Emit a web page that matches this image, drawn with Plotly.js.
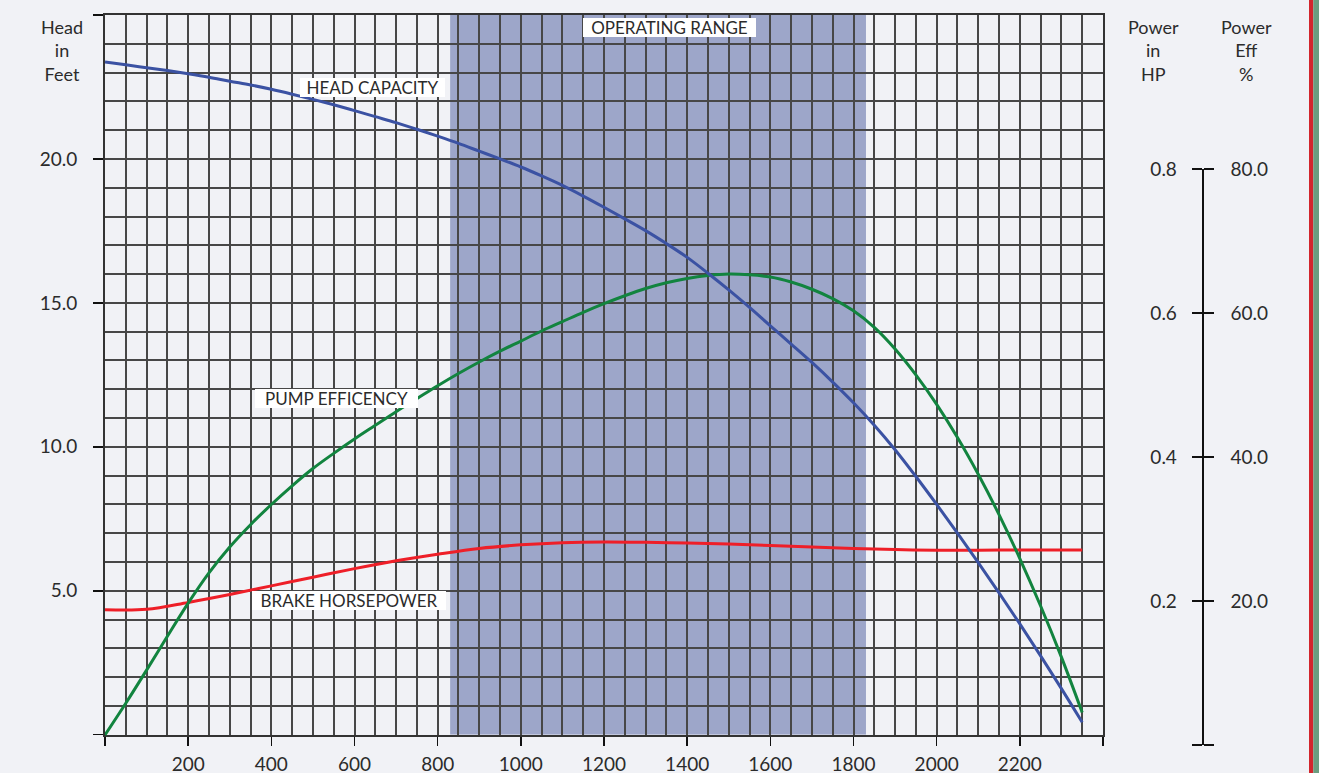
<!DOCTYPE html>
<html>
<head>
<meta charset="utf-8">
<script src="https://cdn.plot.ly/plotly-3.0.1.min.js"></script>
<style>
  html, body { margin: 0; padding: 0; background: #f1f2f6; }
  #chart { width: 1319px; height: 773px; }
</style>
</head>
<body>
<div id="chart"></div>
<script>
// ---------- data ----------
const headFlow = [0,50,100,150,200,250,300,350,400,450,500,550,600,650,700,750,800,850,900,950,1000,1050,1100,1150,1200,1250,1300,1350,1400,1450,1500,1550,1600,1650,1700,1750,1800,1850,1900,1950,2000,2050,2100,2150,2200,2250,2300,2350];
const headFeet = [23.37,23.27,23.17,23.07,22.96,22.84,22.70,22.57,22.42,22.25,22.07,21.88,21.68,21.47,21.26,21.03,20.79,20.54,20.27,20.00,19.72,19.41,19.08,18.71,18.32,17.92,17.51,17.06,16.58,16.03,15.45,14.84,14.20,13.57,12.93,12.25,11.53,10.75,9.90,8.97,8.00,7.00,5.98,4.93,3.85,2.74,1.60,0.43];

const effFlow = [0,50,100,150,200,250,300,350,400,450,500,550,600,650,700,750,800,850,900,950,1000,1050,1100,1150,1200,1250,1300,1350,1400,1450,1500,1550,1600,1650,1700,1750,1800,1850,1900,1950,2000,2050,2100,2150,2200,2250,2300,2350];
const effPct  = [1.4,5.8,10.4,15.1,19.7,23.9,27.5,30.6,33.4,36.0,38.4,40.5,42.5,44.4,46.3,48.1,49.9,51.6,53.2,54.7,56.1,57.5,58.8,60.1,61.3,62.4,63.4,64.2,64.8,65.2,65.4,65.3,65.0,64.3,63.3,62.0,60.3,58.0,55.0,51.4,47.3,42.7,37.6,32.0,25.9,19.3,12.2,4.5];

const hpFlow = [0,100,200,300,400,500,600,700,800,900,1000,1100,1200,1300,1400,1500,1600,1700,1800,1900,2000,2100,2200,2300,2350];
const hpVal  = [0.188,0.1885,0.198,0.209,0.221,0.233,0.245,0.256,0.265,0.273,0.278,0.281,0.282,0.2815,0.2805,0.279,0.277,0.275,0.273,0.2715,0.2705,0.2705,0.2708,0.2708,0.2708];

const operatingRange = [830, 1830];

const xTickVals   = [0,200,400,600,800,1000,1200,1400,1600,1800,2000,2200,2400];
const xTickLabels = ['','200','400','600','800','1000','1200','1400','1600','1800','2000','2200',''];
const yTickVals   = [0,5,10,15,20,25];
const yTickLabels = ['','5.0','10.0','15.0','20.0',''];
const hpTickVals   = [0,0.2,0.4,0.6,0.8];
const hpTickLabels = ['','0.2','0.4','0.6','0.8'];
const effTickVals   = [0,20,40,60,80];
const effTickLabels = ['','20.0','40.0','60.0','80.0'];

// ---------- layout geometry (pixels) ----------
const W = 1319, H = 773;
const mL = 105, mR = 19, mT = 15, mB = 28;
const plotW = W - mL - mR;
const plotH = H - mT - mB;
const plotBottom = H - mB;
const mainRight = 1103, mainBottom = 734.7;
const rightAxisX = 1202.7, rightAxisTop = 169;
const px2paperX = px => (px - mL) / plotW;
const px2paperY = py => (plotBottom - py) / plotH;

const FONT = 'Lato, "Open Sans", sans-serif';
const txt = '#2b2b2b';
const gridC = '#474747';
const gridW = 2;
const xDomain = [0, px2paperX(mainRight)];
const mainYDomain = [px2paperY(mainBottom), 1];
const rightYDomain = [0, px2paperY(rightAxisTop)];

const traces = [
  { x: hpFlow, y: hpVal, xaxis: 'x2', yaxis: 'y2', type: 'scatter', mode: 'lines',
    line: { color: '#ee1f28', width: 3, shape: 'spline', smoothing: 1 }, name: 'Brake Horsepower' },
  { x: effFlow, y: effPct, xaxis: 'x2', yaxis: 'y3', type: 'scatter', mode: 'lines',
    line: { color: '#12843f', width: 3, shape: 'spline', smoothing: 1 }, name: 'Pump Efficiency' },
  { x: headFlow, y: headFeet, xaxis: 'x2', yaxis: 'y4', type: 'scatter', mode: 'lines',
    line: { color: '#3b52a3', width: 3, shape: 'spline', smoothing: 1 }, name: 'Head Capacity' }
];

function labelBox(text, x, y, w) {
  return { text: text, x: x, y: y, xref: 'x', yref: 'y', showarrow: false,
    xanchor: 'center', yanchor: 'middle', bgcolor: '#ffffff', borderwidth: 0, borderpad: 0,
    width: w, height: 19, font: { family: FONT, size: 17, color: txt } };
}
function sideTitle(text, px) {
  return { text: text, xref: 'paper', yref: 'paper', x: px2paperX(px), y: px2paperY(50.5),
    xanchor: 'center', yanchor: 'middle', showarrow: false, align: 'center',
    font: { family: FONT, size: 18, color: txt } };
}

const layout = {
  width: W, height: H,
  margin: { l: mL, r: mR, t: mT, b: mB, pad: 0 },
  paper_bgcolor: '#f1f2f6', plot_bgcolor: 'rgba(0,0,0,0)',
  showlegend: false,
  font: { family: FONT, color: txt },
  xaxis: {
    domain: xDomain, range: [0, 2400], anchor: 'y',
    tickmode: 'array', tickvals: xTickVals, ticktext: xTickLabels,
    ticks: 'outside', ticklen: 9, tickwidth: 1.5, tickcolor: '#111',
    showgrid: true, gridcolor: gridC, gridwidth: gridW,
    minor: { tickmode: 'linear', tick0: 0, dtick: 50, showgrid: true, gridcolor: gridC, gridwidth: gridW, ticks: '' },
    showline: true, mirror: true, linecolor: '#333', linewidth: 2,
    zeroline: false, ticklabelstandoff: 2,
    tickfont: { family: FONT, size: 19, color: txt }
  },
  yaxis: {
    domain: mainYDomain, range: [0, 25], anchor: 'x',
    tickmode: 'array', tickvals: yTickVals, ticktext: yTickLabels,
    ticks: 'outside', ticklen: 10, tickwidth: 1.5, tickcolor: '#111',
    showgrid: true, gridcolor: gridC, gridwidth: gridW,
    minor: { tickmode: 'linear', tick0: 0, dtick: 1, showgrid: true, gridcolor: gridC, gridwidth: gridW, ticks: '' },
    showline: true, mirror: true, linecolor: '#333', linewidth: 2,
    zeroline: false, ticklabelstandoff: 12,
    tickfont: { family: FONT, size: 19, color: txt }
  },
  xaxis2: { domain: xDomain, range: [0, 2400], anchor: 'y2', visible: false, showgrid: false, zeroline: false },
  yaxis2: {
    domain: rightYDomain, range: [0, 0.8], anchor: 'free', position: px2paperX(rightAxisX),
    side: 'left', tickmode: 'array', tickvals: hpTickVals, ticktext: hpTickLabels,
    ticks: 'outside', ticklen: 10, tickwidth: 2, tickcolor: '#111',
    showline: true, linecolor: '#111', linewidth: 2, showgrid: false, zeroline: false,
    ticklabelstandoff: 11, tickfont: { family: FONT, size: 19, color: txt }
  },
  yaxis3: {
    domain: rightYDomain, range: [0, 80], anchor: 'free', position: px2paperX(rightAxisX),
    side: 'right', tickmode: 'array', tickvals: effTickVals, ticktext: effTickLabels,
    ticks: 'outside', ticklen: 10, tickwidth: 2, tickcolor: '#111',
    showline: true, linecolor: '#111', linewidth: 2, showgrid: false, zeroline: false,
    ticklabelstandoff: 13, tickfont: { family: FONT, size: 19, color: txt }
  },
  yaxis4: { domain: mainYDomain, range: [0, 25], anchor: 'free', position: 0, visible: false, showgrid: false, zeroline: false },
  shapes: [
    { type: 'rect', xref: 'x', yref: 'y', x0: operatingRange[0], x1: operatingRange[1], y0: 0, y1: 25,
      fillcolor: '#9da6c9', line: { width: 0 }, layer: 'below' },
    { type: 'rect', xref: 'paper', yref: 'paper', x0: px2paperX(1309), x1: px2paperX(1313.3),
      y0: px2paperY(H + 5), y1: px2paperY(-5), fillcolor: '#d2262c', line: { width: 0 }, layer: 'above' },
    { type: 'rect', xref: 'paper', yref: 'paper', x0: px2paperX(1313.3), x1: px2paperX(W + 5),
      y0: px2paperY(H + 5), y1: px2paperY(-5), fillcolor: '#6a9e7f', line: { width: 0 }, layer: 'above' }
  ],
  annotations: [
    labelBox('OPERATING RANGE', 1357, 24.58, 173),
    labelBox('HEAD CAPACITY', 643, 22.49, 145),
    labelBox('PUMP EFFICENCY', 556, 11.69, 163),
    labelBox('BRAKE HORSEPOWER', 586, 4.65, 194),
    sideTitle('Head<br>in<br>Feet', 62),
    sideTitle('Power<br>in<br>HP', 1153),
    sideTitle('Power<br>Eff<br>%', 1246)
  ]
};

Plotly.newPlot('chart', traces, layout, { staticPlot: true, displayModeBar: false });
</script>
</body>
</html>
